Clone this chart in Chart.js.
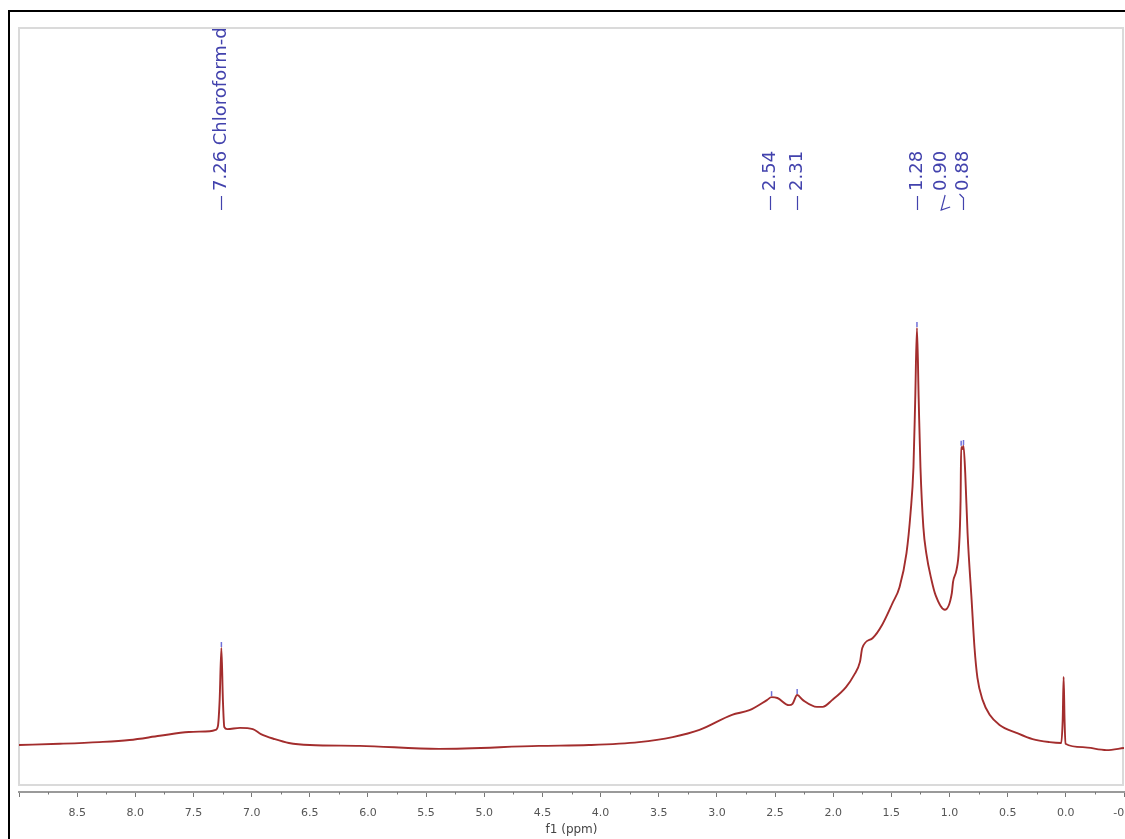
<!DOCTYPE html>
<html>
<head>
<meta charset="utf-8">
<script src="https://cdn.jsdelivr.net/npm/chart.js@4.4.1/dist/chart.umd.min.js"></script>
<style>
  html, body { margin: 0; padding: 0; background: #fff; overflow: hidden; }
  #wrap { position: absolute; left: 0; top: 0; width: 1160px; height: 839px; }
</style>
</head>
<body>
<div id="wrap"><canvas id="c" width="1160" height="839"></canvas></div>
<script>
// Chemical shift (ppm) and intensity (arbitrary units, tallest peak = 100)
const ppm = [9.00, 8.65, 8.31, 8.05, 7.79, 7.54, 7.36, 7.31, 7.29, 7.275, 7.26, 7.247, 7.235, 7.21,
  7.10, 6.99, 6.92, 6.80, 6.68, 6.50, 6.07, 5.39, 4.53, 4.10, 3.67, 3.38, 3.15, 2.87, 2.72, 2.57,
  2.53, 2.48, 2.38, 2.35, 2.31, 2.26, 2.14, 2.09, 2.01, 1.89, 1.82, 1.77, 1.75, 1.66, 1.58, 1.49,
  1.43, 1.37, 1.335, 1.31, 1.295, 1.28, 1.265, 1.25, 1.225, 1.20, 1.155, 1.12, 1.04, 0.98, 0.97,
  0.94, 0.92, 0.905, 0.90, 0.89, 0.88, 0.865, 0.845, 0.81, 0.785, 0.76, 0.715, 0.655, 0.57, 0.425,
  0.286, 0.14, 0.04, 0.027, 0.019, 0.011, 0.003, -0.145, -0.35, -0.50];
const intensity = [0.7, 1.0, 1.4, 1.9, 2.9, 3.8, 4.0, 4.3, 5.2, 11.4, 23.8, 11.4, 5.0, 4.5,
  4.8, 4.5, 3.3, 2.1, 1.2, 0.7, 0.5, -0.2, 0.5, 0.7, 1.4, 2.6, 4.3, 7.9, 9.0, 11.4,
  12.1, 11.9, 10.2, 10.5, 12.6, 11.4, 9.8, 9.8, 11.4, 14.5, 17.4, 20.5, 23.8, 26.2, 29.3, 34.5,
  38.3, 46.4, 56.0, 66.9, 82.9, 100, 82.9, 66.9, 52.6, 46.4, 40.0, 36.4, 32.9, 36.9, 39.5,
  42.4, 47.1, 59.0, 71.7, 71.2, 71.9, 65.5, 51.2, 35.2, 23.8, 16.7, 11.4, 7.9, 5.5, 3.6,
  2.1, 1.4, 1.2, 6.7, 16.9, 6.7, 1.0, 0.2, -0.5, 0.0];

// Peak annotations
const peakPpm = [7.26, 2.54, 2.31, 1.28, 0.90, 0.88];
const peakText = ['7.26 Chloroform-d', '2.54', '2.31', '1.28', '0.90', '0.88'];

const xMin = -0.5, xMax = 9.0, xStep = 0.25;
const axisTitle = 'f1 (ppm)';

const LABEL_BLUE = '#4242ad';

const framePlugin = {
  id: 'frame',
  beforeDraw(chart) {
    const ctx = chart.ctx;
    ctx.save();
    ctx.fillStyle = '#fff';
    ctx.fillRect(0, 0, chart.width, chart.height);
    // outer black frame (left & top)
    ctx.fillStyle = '#000';
    ctx.fillRect(8, 10, 2, chart.height - 10);
    ctx.fillRect(8, 10, chart.width - 8, 2);
    // inner light grey box
    ctx.strokeStyle = '#dadada';
    ctx.lineWidth = 2;
    ctx.strokeRect(19, 28, 1104, 757);
    ctx.restore();
  },
  afterDraw(chart) {
    const ctx = chart.ctx;
    const xs = chart.scales.x, ys = chart.scales.y;
    ctx.save();
    // minor ticks
    ctx.strokeStyle = '#777';
    ctx.lineWidth = 1;
    const axisY = chart.chartArea.bottom;
    xs.ticks.forEach(t => {
      const major = Math.abs(t.value * 2 - Math.round(t.value * 2)) < 1e-6;
      if (!major) {
        const px = Math.round(xs.getPixelForValue(t.value)) + 0.5;
        ctx.beginPath();
        ctx.moveTo(px, axisY);
        ctx.lineTo(px, axisY + 2.5);
        ctx.stroke();
      }
    });
    // blue peak markers
    ctx.strokeStyle = '#7070d8';
    ctx.lineWidth = 1.5;
    peakPpm.forEach(p => {
      let best = 0;
      ppm.forEach((v, i) => { if (Math.abs(v - p) < Math.abs(ppm[best] - p)) best = i; });
      const px = xs.getPixelForValue(ppm[best]);
      const py = ys.getPixelForValue(intensity[best]);
      ctx.beginPath();
      ctx.moveTo(px, py - 1);
      ctx.lineTo(px, py - 6);
      ctx.stroke();
    });
    // rotated labels
    ctx.font = '18px "DejaVu Sans"';
    ctx.fillStyle = LABEL_BLUE;
    ctx.strokeStyle = LABEL_BLUE;
    ctx.lineWidth = 1.2;
    ctx.textBaseline = 'middle';
    ctx.textAlign = 'left';
    const baseY = 210;   // bottom of connector line
    const textY = 191;   // where the text starts (reading upward)
    const drawRot = (txt, x) => {
      ctx.save();
      ctx.translate(x, textY);
      ctx.rotate(-Math.PI / 2);
      ctx.fillText(txt, 0, 0);
      ctx.restore();
    };
    peakPpm.forEach((p, i) => {
      let x = xs.getPixelForValue(p);
      if (p === 0.90) {
        x -= 20;
        drawRot(peakText[i], x);
        ctx.beginPath();
        ctx.moveTo(x + 4, textY + 4);
        ctx.lineTo(x, baseY);
        ctx.lineTo(x + 9, baseY - 3);
        ctx.stroke();
      } else if (p === 0.88) {
        drawRot(peakText[i], x);
        ctx.beginPath();
        ctx.moveTo(x - 4, textY + 3);
        ctx.lineTo(x, textY + 7);
        ctx.lineTo(x, baseY);
        ctx.stroke();
      } else {
        drawRot(peakText[i], x);
        ctx.beginPath();
        ctx.moveTo(Math.round(x) + 0.5, textY + 5);
        ctx.lineTo(Math.round(x) + 0.5, baseY);
        ctx.stroke();
      }
    });
    ctx.restore();
  }
};

new Chart(document.getElementById('c'), {
  type: 'line',
  data: {
    datasets: [{
      data: ppm.map((p, i) => ({ x: p, y: intensity[i] })),
      borderColor: '#a32d2d',
      borderWidth: 1.9,
      pointRadius: 0,
      fill: false,
      cubicInterpolationMode: 'monotone'
    }]
  },
  options: {
    responsive: false,
    animation: false,
    events: [],
    layout: { padding: { left: 19, top: 27, right: 36, bottom: 0 } },
    plugins: { legend: { display: false }, tooltip: { enabled: false } },
    scales: {
      x: {
        type: 'linear',
        reverse: true,
        min: xMin,
        max: xMax,
        afterFit(scale) { scale.height = 47; },
        border: { display: true, color: '#9a9a9a', width: 2 },
        grid: {
          drawOnChartArea: false,
          drawTicks: true,
          tickLength: 5,
          tickWidth: 1,
          tickColor: (c) => {
            const v = c.tick ? c.tick.value : 0;
            return Math.abs(v * 2 - Math.round(v * 2)) < 1e-6 ? '#777' : 'rgba(0,0,0,0)';
          }
        },
        ticks: {
          stepSize: xStep,
          autoSkip: false,
          maxRotation: 0,
          padding: 10,
          color: '#555',
          font: { family: '"DejaVu Sans"', size: 11 },
          callback: (v) => {
            const major = Math.abs(v * 2 - Math.round(v * 2)) < 1e-6;
            if (!major || v > 8.9) return '';
            return v.toFixed(1);
          }
        },
        title: {
          display: true,
          text: axisTitle,
          color: '#444',
          font: { family: '"DejaVu Sans"', size: 12 },
          padding: { top: 0, bottom: 2 }
        }
      },
      y: {
        display: false,
        min: -10.48,
        max: 171.67
      }
    }
  },
  plugins: [framePlugin]
});
</script>
</body>
</html>
